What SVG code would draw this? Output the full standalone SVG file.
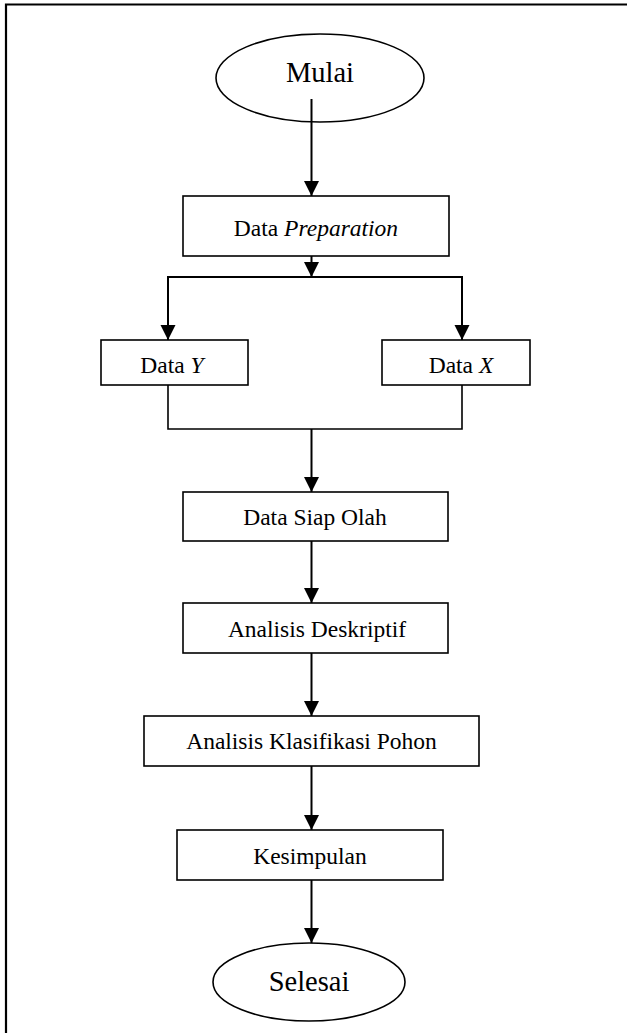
<svg xmlns="http://www.w3.org/2000/svg" width="627" height="1033" viewBox="0 0 627 1033">
  <style>
    .box { fill: #fff; stroke: #000; stroke-width: 1.6; }
    .t { font-family: "Liberation Serif", "Times New Roman", serif; font-size: 23.5px; fill: #000; text-anchor: middle; }
    .big { font-size: 28.5px; }
    .c { fill: none; stroke: #000; stroke-width: 2; }
    .c1 { fill: none; stroke: #000; stroke-width: 1.6; }
  </style>
  <defs>
    <marker id="arr" markerUnits="userSpaceOnUse" markerWidth="16" markerHeight="16" refX="15" refY="7.5" orient="auto">
      <path d="M0,0 L15,7.5 L0,15 z" fill="#000"/>
    </marker>
  </defs>
  <rect width="627" height="1033" fill="#fff"/>
  <g id="frame">
    <path d="M6,1033 V4.5 H627" fill="none" stroke="#000" stroke-width="2.2"/>
  </g>

  <g id="connectors">
    <line class="c" x1="311.5" y1="99" x2="311.5" y2="196" marker-end="url(#arr)"/>
    <line class="c" x1="311.5" y1="256" x2="311.5" y2="277" marker-end="url(#arr)"/>
    <path class="c" d="M168,340 V277 H462 V340" fill="none"/>
    <line class="c" x1="168" y1="300" x2="168" y2="340" marker-end="url(#arr)"/>
    <line class="c" x1="462" y1="300" x2="462" y2="340" marker-end="url(#arr)"/>
    <path class="c1" d="M168,385 V429 H462 V385"/>
    <line class="c" x1="311.5" y1="429" x2="311.5" y2="492" marker-end="url(#arr)"/>
    <line class="c" x1="311.5" y1="541" x2="311.5" y2="603" marker-end="url(#arr)"/>
    <line class="c" x1="311.5" y1="653" x2="311.5" y2="716" marker-end="url(#arr)"/>
    <line class="c" x1="311.5" y1="766" x2="311.5" y2="830" marker-end="url(#arr)"/>
    <line class="c" x1="311.5" y1="880" x2="311.5" y2="943" marker-end="url(#arr)"/>
  </g>

  <g id="mulai">
    <ellipse cx="320" cy="78" rx="104" ry="44" fill="none" stroke="#000" stroke-width="1.6"/>
    <text class="t big" x="320" y="82">Mulai</text>
  </g>

  <g id="data-preparation">
    <rect class="box" x="183" y="196" width="266" height="60"/>
    <text class="t" x="316" y="236">Data <tspan font-style="italic">Preparation</tspan></text>
  </g>

  <g id="data-y">
    <rect class="box" x="101" y="340" width="147" height="45"/>
    <text class="t" x="172" y="373">Data <tspan font-style="italic">Y</tspan></text>
  </g>

  <g id="data-x">
    <rect class="box" x="382" y="340" width="148" height="45"/>
    <text class="t" x="461" y="373">Data <tspan font-style="italic">X</tspan></text>
  </g>

  <g id="data-siap-olah">
    <rect class="box" x="183" y="492" width="265" height="49"/>
    <text class="t" x="315" y="525">Data Siap Olah</text>
  </g>

  <g id="analisis-deskriptif">
    <rect class="box" x="183" y="603" width="265" height="50"/>
    <text class="t" x="317" y="637">Analisis Deskriptif</text>
  </g>

  <g id="analisis-klasifikasi">
    <rect class="box" x="144" y="716" width="335" height="50"/>
    <text class="t" x="311.5" y="749">Analisis Klasifikasi Pohon</text>
  </g>

  <g id="kesimpulan">
    <rect class="box" x="177" y="830" width="266" height="50"/>
    <text class="t" x="310" y="864">Kesimpulan</text>
  </g>

  <g id="selesai">
    <ellipse cx="309" cy="982" rx="96" ry="39" fill="#fff" stroke="#000" stroke-width="1.6"/>
    <text class="t big" x="309" y="991">Selesai</text>
  </g>
</svg>
